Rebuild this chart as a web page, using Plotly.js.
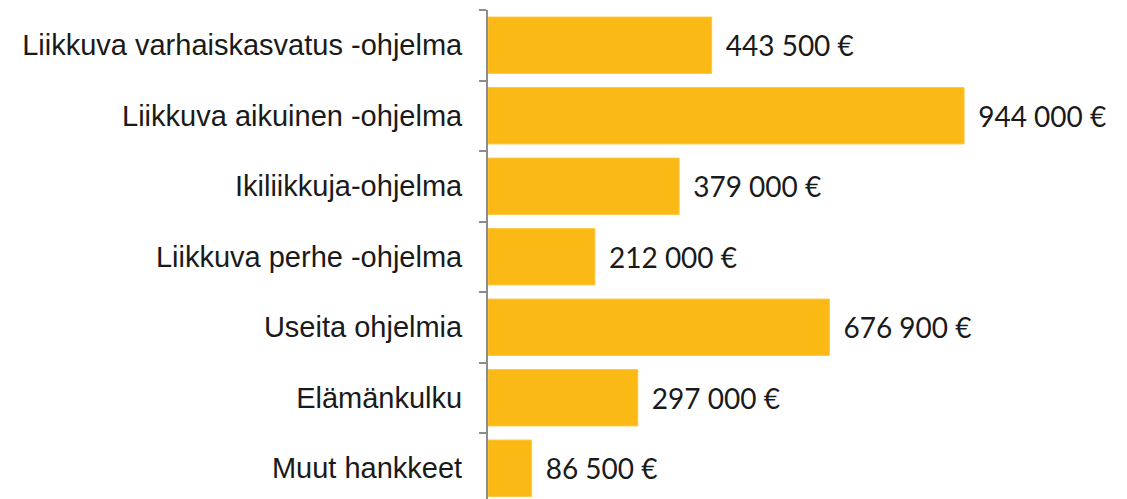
<!DOCTYPE html>
<html><head><meta charset="utf-8">
<script src="https://cdn.plot.ly/plotly-3.0.1.min.js"></script>
<style>html,body{margin:0;padding:0;background:#fff}#c{width:1127px;height:499px}</style>
</head><body><div id="c"></div>
<script>
const categories = ["Liikkuva varhaiskasvatus -ohjelma","Liikkuva aikuinen -ohjelma","Ikiliikkuja-ohjelma","Liikkuva perhe -ohjelma","Useita ohjelmia","Elämänkulku","Muut hankkeet"];
const values = [443500, 944000, 379000, 212000, 676900, 297000, 86500];
const valueLabels = ["443 500 €","944 000 €","379 000 €","212 000 €","676 900 €","297 000 €","86 500 €"];

Plotly.newPlot('c', [{
  type: 'bar', orientation: 'h',
  y: categories, x: values,
  text: valueLabels.map(s => '\u2004\u200A' + s),
  textposition: 'outside', cliponaxis: false,
  textfont: {family: 'Lato, sans-serif', size: 28, color: '#1a1a1a'},
  marker: {color: '#FBB916', line: {color: '#FCC84A', width: 1}},
  hoverinfo: 'none'
}], {
  width: 1127, height: 499,
  margin: {l: 488, r: 0, t: 10, b: 0},
  paper_bgcolor: '#fff', plot_bgcolor: '#fff',
  bargap: 0.2, showlegend: false,
  xaxis: {range: [0, 1267000], visible: false, fixedrange: true},
  yaxis: {type: 'category', categoryorder: 'array', categoryarray: categories,
    range: [6.436, -0.5], showline: true, linecolor: '#8c8c8c', linewidth: 2,
    ticks: 'outside', tickson: 'boundaries', ticklen: 7, tickcolor: '#8c8c8c', tickwidth: 2,
    ticklabelstandoff: 18, showgrid: false, zeroline: false,
    tickfont: {family: 'Liberation Sans, Arial, sans-serif', size: 29, color: '#1a1a1a'}}
}, {staticPlot: true});
</script></body></html>
